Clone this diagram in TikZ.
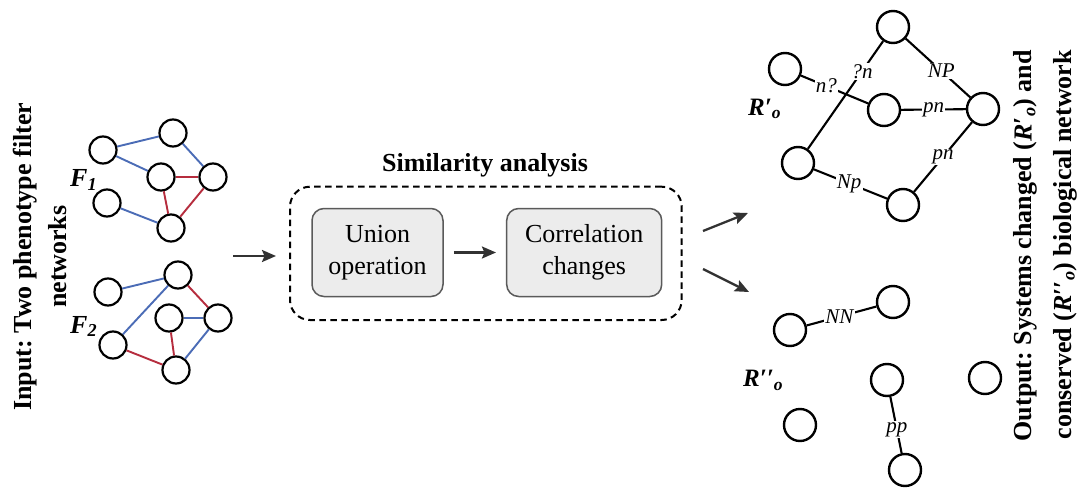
\documentclass[tikz,border=0pt]{standalone}
\usepackage{fontspec}
\setmainfont{Liberation Serif}
\usetikzlibrary{arrows.meta}
\definecolor{eblue}{RGB}{75,108,182}
\definecolor{ered}{RGB}{182,45,62}
\definecolor{arrgray}{RGB}{50,50,50}
\definecolor{boxfill}{RGB}{236,236,236}
\definecolor{boxline}{RGB}{90,90,90}
\frenchspacing
\begin{document}
\begin{tikzpicture}[x=1pt,y=-1pt,
  fn/.style={circle,draw=black,line width=2.2pt,minimum size=27pt,inner sep=0pt},
  rn/.style={circle,draw=black,line width=2.4pt,minimum size=32pt,inner sep=0pt},
  be/.style={draw=eblue,line width=1.9pt},
  re/.style={draw=ered,line width=1.9pt},
  ke/.style={draw=black,line width=2.1pt},
  lab/.style={fill=white,inner sep=1.2pt,font=\fontsize{21}{21}\selectfont\itshape},
  arr/.style={draw=arrgray,line width=2.3pt,-{Stealth[length=14pt,width=12pt,inset=2.5pt]}},
  procbox/.style={draw=boxline,line width=1.5pt,fill=boxfill,rounded corners=12pt,
    minimum width=131pt,minimum height=88pt,align=center,
    font=\fontsize{26}{31.6}\selectfont},
  bigtxt/.style={font=\fontsize{26}{31}\selectfont\bfseries,inner sep=0pt},
  netlab/.style={font=\fontsize{26}{26}\selectfont\bfseries\itshape,inner sep=0pt},
  rlab/.style={font=\fontsize{25}{25}\selectfont\bfseries\itshape,inner sep=0pt}
]
\useasboundingbox (0,0) rectangle (1085,495);
\fill[white] (0,0) rectangle (1085,495);

% ---------- input text ----------
\node[bigtxt,rotate=90,anchor=base] (in1) at (31.7,256.7) {Input: Two phenotype filter};
\node[bigtxt,rotate=90,anchor=base] (in2) at (66,256.7) {networks};

% ---------- F1 ----------
\node[netlab,anchor=base west] (f1) at (70,186.7) {F\textsubscript{1}};
\node[fn] (a1) at (103,150) {};
\node[fn] (a2) at (173,133) {};
\node[fn] (a3) at (161,177) {};
\node[fn] (a4) at (213,177) {};
\node[fn] (a5) at (107,203) {};
\node[fn] (a6) at (171,228) {};
\draw[be] (a1) -- (a2);
\draw[be] (a1) -- (a3);
\draw[be] (a2) -- (a4);
\draw[re] (a3) -- (a4);
\draw[re] (a3) -- (a6);
\draw[re] (a4) -- (a6);
\draw[be] (a5) -- (a6);

% ---------- F2 ----------
\node[netlab,anchor=base west] (f2) at (70,333) {F\textsubscript{2}};
\node[fn] (b1) at (108,292) {};
\node[fn] (b2) at (178,275) {};
\node[fn] (b3) at (169,318) {};
\node[fn] (b4) at (218,318) {};
\node[fn] (b5) at (113,345) {};
\node[fn] (b6) at (176,370) {};
\draw[be] (b1) -- (b2);
\draw[be] (b2) -- (b5);
\draw[re] (b2) -- (b4);
\draw[be] (b3) -- (b4);
\draw[re] (b3) -- (b6);
\draw[be] (b4) -- (b6);
\draw[re] (b5) -- (b6);

% ---------- similarity analysis ----------
\node[bigtxt,anchor=base] (simt) at (485,171.5) {Similarity analysis};
\node[draw,line width=2pt,dash pattern=on 6.5pt off 4.5pt,rounded corners=20pt,
  inner sep=0pt,minimum width=391.7pt,minimum height=133.3pt] (sim) at (485.85,253.35) {};
\node[procbox] (uni) at (377.5,252.5) {Union\\operation};
\node[procbox,minimum width=155pt] (cor) at (584.2,252.5) {Correlation\\changes};
\draw[arr,shorten <=10pt,shorten >=10pt] (uni) -- (cor);

\coordinate (inA) at (233,256);
\coordinate (inB) at (276,256);
\draw[arr] (inA) -- (inB);

% ---------- output arrows ----------
\coordinate (o1s) at (703,231);
\coordinate (o1e) at (748,213);
\coordinate (o2s) at (703,269);
\coordinate (o2e) at (749,292);
\draw[arr] (o1s) -- (o1e);
\draw[arr] (o2s) -- (o2e);

% ---------- R'o ----------
\node[rlab,anchor=base west] (r1) at (748,115) {R′\textsubscript{o}};
\node[rn] (c1) at (893,27) {};
\node[rn] (c2) at (785,69) {};
\node[rn] (c3) at (884,110) {};
\node[rn] (c4) at (983,109) {};
\node[rn] (c5) at (798,163) {};
\node[rn] (c6) at (903,205) {};
\draw[ke] (c1) -- node[lab,pos=0.55] {NP} (c4);
\draw[ke] (c2) -- node[lab,pos=0.38] {n?} (c3);
\draw[ke] (c5) -- node[lab,pos=0.72] {?n} (c1);
\draw[ke] (c3) -- node[lab,pos=0.5] {pn} (c4);
\draw[ke] (c4) -- node[lab,pos=0.5] {pn} (c6);
\draw[ke] (c5) -- node[lab,pos=0.48] {Np} (c6);

% ---------- R''o ----------
\node[rlab,anchor=base west] (r2) at (743,386.7) {R′′\textsubscript{o}};
\node[rn] (d1) at (790,330) {};
\node[rn] (d2) at (893,302) {};
\node[rn] (d3) at (887,380) {};
\node[rn] (d4) at (985,378) {};
\node[rn] (d5) at (800,425) {};
\node[rn] (d6) at (905,470) {};
\draw[ke] (d1) -- node[lab,pos=0.47] {NN} (d2);
\draw[ke] (d3) -- node[lab,pos=0.58] {pp} (d6);

% ---------- output text ----------
\node[bigtxt,rotate=90,anchor=base east] (out1) at (1031.7,50)
  {Output: Systems changed (\textit{R}′\textsubscript{\textit{o}}) and};
\node[bigtxt,rotate=90,anchor=base east] (out2) at (1071,50)
  {conserved (\textit{R}′′\textsubscript{\textit{o}}) biological network};
\end{tikzpicture}
\end{document}
